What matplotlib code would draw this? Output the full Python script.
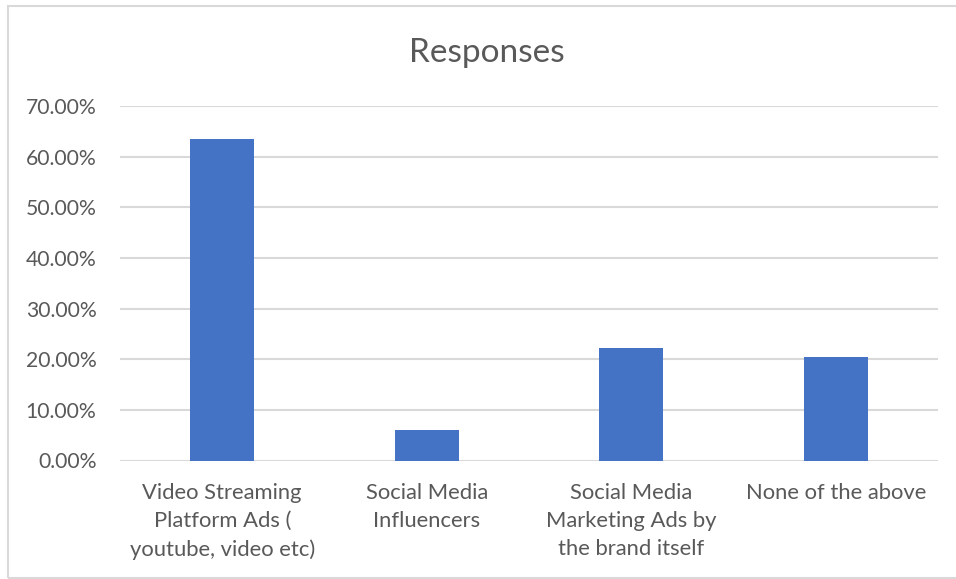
import matplotlib.pyplot as plt
from matplotlib.patches import Rectangle
from matplotlib.ticker import PercentFormatter

# survey answers and share of respondents
categories = ['Video Streaming\nPlatform Ads (\nyoutube, video etc)',
              'Social Media\nInfluencers',
              'Social Media\nMarketing Ads by\nthe brand itself',
              'None of the above']
shares = [0.634, 0.060, 0.223, 0.204]
yticks = [0.0, 0.1, 0.2, 0.3, 0.4, 0.5, 0.6, 0.7]

plt.rcParams['font.family'] = ['Lato', 'DejaVu Sans']
grey = '#595959'

fig = plt.figure(figsize=(9.56, 5.79), dpi=100)
ax = fig.add_axes([120 / 956, 1 - 460.5 / 579, 818 / 956, 354.5 / 579])

# chart frame
fig.patches.append(Rectangle((8 / 956, 1 - 578 / 579), 1.2, 572 / 579,
                             transform=fig.transFigure, fill=False,
                             edgecolor='#d9d9d9', linewidth=1.5))

x = range(len(categories))
ax.bar(x, shares, width=0.313, color='#4472C4', zorder=3)

ax.set_xlim(-0.5, len(categories) - 0.5)
ax.set_ylim(0, 0.7)
ax.set_yticks(yticks)
ax.yaxis.set_major_formatter(PercentFormatter(1.0, decimals=2))
ax.set_xticks(list(x))
ax.set_xticklabels(categories, linespacing=1.52, fontsize=15.8)

ax.grid(axis='y', color='#d9d9d9', linewidth=1.5, zorder=0)
for s in ax.spines.values():
    s.set_visible(False)
ax.tick_params(axis='both', length=0, colors=grey)
ax.tick_params(axis='y', pad=17, labelsize=15.2)
ax.tick_params(axis='x', pad=16)

fig.suptitle('Responses', x=487 / 956, y=1 - 38 / 579,
             fontsize=24, color=grey, va='top')

fig.savefig('out.png', dpi=100)
